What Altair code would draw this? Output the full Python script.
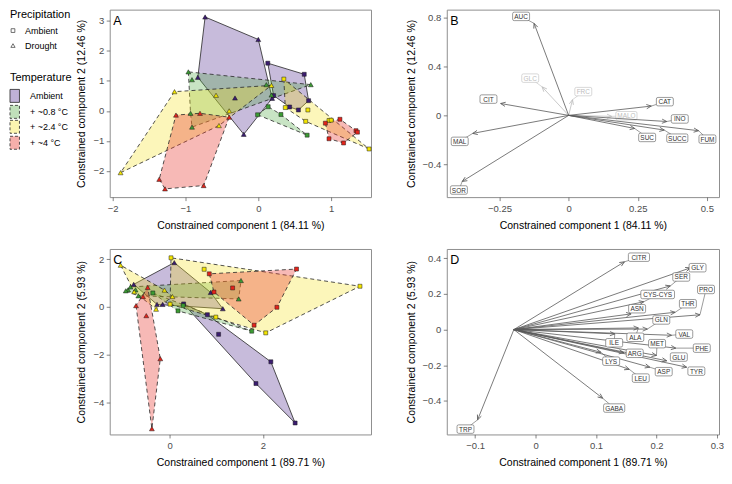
import math
import altair as alt
import pandas as pd

FONT = "Liberation Sans"

# ---------------- data ----------------
TEMPERATURE = ["Ambient", "+ ~0.8 °C", "+ ~2.4 °C", "+ ~4 °C"]
PRECIPITATION = ["Ambient", "Drought"]

# Panel A scores (T0 = ambient temperature ... T3 = +~4 °C; AMB/DRO = precipitation)
A_T0_AMB_X = [0.13, 0.63, 0.69, 0.55, 0.43, 0.21]
A_T0_AMB_Y = [1.59, 1.22, 0.34, 0.03, 0.13, 0.51]
A_T0_DRO_X = [-0.73, 0.00, -0.83, -0.20, 0.19, -0.32]
A_T0_DRO_Y = [3.13, 2.38, 1.12, -0.78, 0.42, 0.43]
A_T1_AMB_X = [0.135, 0.31, -0.01, 0.67]
A_T1_AMB_Y = [0.14, -0.12, -0.13, -0.81]
A_T1_DRO_X = [-0.96, -0.91, 0.11, 0.72, -0.93, -0.91, 0.18]
A_T1_DRO_Y = [1.30, 1.04, 0.875, 0.875, -0.08, -0.54, 0.53]
A_T2_AMB_X = [0.35, 0.37, 0.68, 0.65, 0.97, 1.00, 1.52]
A_T2_AMB_Y = [1.06, 0.11, 0.03, -0.35, -0.32, -0.31, -1.27]
A_T2_DRO_X = [-1.89, -1.15, 0.18, -0.58, -0.40, -0.54]
A_T2_DRO_Y = [-2.06, 0.64, 0.85, 0.52, 0.00, -0.49]
A_T3_AMB_X = [0.92, 1.12, 1.34, 1.36, 1.17, 0.97]
A_T3_AMB_Y = [-0.41, -0.28, -0.66, -0.71, -1.07, -0.93]
A_T3_DRO_X = [-1.13, -0.80, -0.40, -0.75, -1.28, -1.36]
A_T3_DRO_Y = [-0.14, -0.08, -0.21, -2.49, -2.60, -2.28]

# Panel C scores
C_T0_AMB_X = [0.30, 0.81, 1.05, 2.17, 1.85, 2.69]
C_T0_AMB_Y = [0.12, -0.33, -1.15, -2.30, -3.21, -4.86]
C_T0_DRO_X = [0.10, -0.77, -0.27, -0.15, 1.14, 0.88]
C_T0_DRO_Y = [1.85, 0.94, 0.10, 0.10, -0.08, 0.60]
C_T1_AMB_X = [-0.36, 0.29, 0.18, 1.76]
C_T1_AMB_Y = [0.58, 0.05, -0.17, -1.02]
C_T1_DRO_X = [-0.89, -0.84, -0.73, -0.67, -0.94, 1.53, 1.48]
C_T1_DRO_Y = [0.71, 0.83, 0.71, 0.46, 0.67, 1.10, 0.33]
C_T2_AMB_X = [0.03, 0.74, 0.99, 2.06, 4.08, 0.01]
C_T2_AMB_Y = [2.05, 1.57, -0.43, -1.09, 0.86, 0.11]
C_T2_DRO_X = [-1.05, -0.11, 0.06, -0.76, -0.29]
C_T2_DRO_Y = [1.74, 0.70, 0.43, 0.63, -0.10]
C_T3_AMB_X = [0.85, 2.72, 1.35, 0.95, 2.30, 1.81]
C_T3_AMB_Y = [1.38, 1.58, 0.79, 0.62, -0.02, -0.77]
C_T3_DRO_X = [-0.47, -0.57, -0.72, -0.50, -0.20, -0.38]
C_T3_DRO_Y = [0.81, 0.43, 0.05, -0.37, -2.17, -5.10]

# Panel B loadings
B_VARS = ["AUC", "GLC", "FRC", "CIT", "CAT", "MALO", "INO", "FUM", "SUCC", "SUC", "MAL", "SOR"]
B_X = [-0.125, -0.096, 0.014, -0.246, 0.299, 0.156, 0.355, 0.470, 0.346, 0.239, -0.347, -0.385]
B_Y = [0.751, 0.233, 0.128, 0.097, 0.076, -0.008, -0.050, -0.125, -0.120, -0.107, -0.147, -0.539]
B_LABEL_X = [-0.172, -0.139, 0.053, -0.290, 0.348, 0.209, 0.402, 0.502, 0.393, 0.284, -0.394, -0.397]
B_LABEL_Y = [0.808, 0.304, 0.194, 0.133, 0.112, -0.003, -0.029, -0.194, -0.186, -0.180, -0.212, -0.609]
B_FAINT = [False, True, True, False, False, True, False, False, False, False, False, False]
B_ORIGIN = [0.0, 0.0]

# Panel D loadings
D_VARS = ["CITR", "GLY", "SER", "PRO", "CYS-CYS", "THR", "ASN", "GLN", "ALA", "VAL", "ILE",
          "MET", "PHE", "ARG", "GLU", "TYR", "LYS", "ASP", "LEU", "GABA", "TRP"]
D_X = [0.147, 0.256, 0.223, 0.272, 0.179, 0.231, 0.158, 0.185, 0.170, 0.225, 0.131,
       0.200, 0.232, 0.146, 0.217, 0.250, 0.108, 0.189, 0.155, 0.111, -0.096]
D_Y = [0.380, 0.346, 0.245, 0.083, 0.156, 0.097, 0.088, 0.003, 0.009, -0.032, -0.024,
       -0.145, -0.104, -0.130, -0.175, -0.211, -0.127, -0.211, -0.223, -0.385, -0.506]
D_LABEL_X = [0.171, 0.268, 0.241, 0.282, 0.202, 0.252, 0.168, 0.208, 0.165, 0.246, 0.130,
             0.201, 0.275, 0.164, 0.237, 0.266, 0.125, 0.212, 0.174, 0.130, -0.116]
D_LABEL_Y = [0.406, 0.347, 0.295, 0.225, 0.197, 0.145, 0.117, 0.054, -0.043, -0.025, -0.074,
             -0.079, -0.104, -0.133, -0.154, -0.233, -0.177, -0.236, -0.272, -0.440, -0.558]
D_FAINT = [False] * len(D_VARS)
D_ORIGIN = [-0.036, 0.0]

# ---------------- styles ----------------
POINT_COLORS = ["#3b1c70", "#3b9b33", "#f3e500", "#e3241b"]
FILL_COLORS = ["#5e3c99", "#4aa63a", "#f6e21c", "#e8372e"]
FILL_OPACITY = [0.35, 0.3, 0.3, 0.35]
EDGE = "#262626"

W_LEFT, W_RIGHT = 262, 273
H_TOP, H_BOT = 188, 186
LEG_X = -100  # legend column offset from panel A's left edge (pixels)


def hull(points):
    pts = sorted(set(points))
    if len(pts) <= 2:
        return pts

    def cross(o, a, b):
        return (a[0] - o[0]) * (b[1] - o[1]) - (a[1] - o[1]) * (b[0] - o[0])

    lower, upper = [], []
    for p in pts:
        while len(lower) >= 2 and cross(lower[-2], lower[-1], p) <= 0:
            lower.pop()
        lower.append(p)
    for p in reversed(pts):
        while len(upper) >= 2 and cross(upper[-2], upper[-1], p) <= 0:
            upper.pop()
        upper.append(p)
    return lower[:-1] + upper[:-1]


def enc_xy(xdom, ydom, xticks, yticks, xtitle, ytitle, xf="x", yf="y"):
    X = alt.X(f"{xf}:Q", scale=alt.Scale(domain=xdom, nice=False, zero=False),
              axis=alt.Axis(values=xticks, format=".3~g", title=xtitle))
    Y = alt.Y(f"{yf}:Q", scale=alt.Scale(domain=ydom, nice=False, zero=False),
              axis=alt.Axis(values=yticks, format=".3~g", title=ytitle))
    return X, Y


DUMMY = pd.DataFrame({"d": [0]})


def letter_layer(letter):
    return alt.Chart(DUMMY).mark_text(text=letter, font=FONT, fontSize=12.5, align="left",
                                      baseline="middle", color="black").encode(
        x=alt.value(3.5), y=alt.value(11))


def scatter_panel(groups, xdom, ydom, w, h, xticks, yticks, xtitle, ytitle, letter, extra=()):
    X, Y = enc_xy(xdom, ydom, xticks, yticks, xtitle, ytitle)
    layers = []
    pts = []
    for ti, pi, xs, ys in groups:
        hv = hull(list(zip(xs, ys)))
        df = pd.DataFrame({"x": [p[0] for p in hv], "y": [p[1] for p in hv], "o": list(range(len(hv)))})
        kw = dict(interpolate="linear-closed", fill=FILL_COLORS[ti], fillOpacity=FILL_OPACITY[ti],
                  stroke=EDGE, strokeWidth=0.8)
        if ti > 0:
            kw["strokeDash"] = [4, 3]
        layers.append(alt.Chart(df).mark_line(**kw).encode(x=X, y=Y, order="o:Q"))
        for x, y in zip(xs, ys):
            pts.append({"x": x, "y": y, "temp": TEMPERATURE[ti], "prec": PRECIPITATION[pi]})
    pdf = pd.DataFrame(pts)
    layers.append(alt.Chart(pdf).mark_point(filled=True, opacity=1, stroke="#1a1a1a", strokeWidth=0.5).encode(
        x=X, y=Y,
        fill=alt.Fill("temp:N", scale=alt.Scale(domain=TEMPERATURE, range=POINT_COLORS), legend=None),
        shape=alt.Shape("prec:N", scale=alt.Scale(domain=PRECIPITATION, range=["square", "triangle-up"]), legend=None),
        size=alt.Size("prec:N", scale=alt.Scale(domain=PRECIPITATION, range=[16, 24]), legend=None),
    ))
    layers.append(letter_layer(letter))
    layers.extend(extra)
    return alt.layer(*layers).properties(width=w, height=h)


def rrect_path(wpx, hpx, r=1.6, k=5.0):
    hw, hh, rr = wpx / 2 / k, hpx / 2 / k, r / k
    f = lambda v: f"{v:.3f}"
    return (f"M{f(-hw + rr)},{f(-hh)}H{f(hw - rr)}Q{f(hw)},{f(-hh)} {f(hw)},{f(-hh + rr)}"
            f"V{f(hh - rr)}Q{f(hw)},{f(hh)} {f(hw - rr)},{f(hh)}H{f(-hw + rr)}"
            f"Q{f(-hw)},{f(hh)} {f(-hw)},{f(hh - rr)}V{f(-hh + rr)}Q{f(-hw)},{f(-hh)} {f(-hw + rr)},{f(-hh)}Z")


CHEVRON = "M-0.7,1.6L0,0L0.7,1.6"


def biplot_panel(vars_, tx, ty, lx, ly, faint, origin, xdom, ydom, w, h, xticks, yticks,
                 xtitle, ytitle, letter):
    sx = w / (xdom[1] - xdom[0])
    sy = h / (ydom[1] - ydom[0])
    rows = []
    for i, v in enumerate(vars_):
        dx, dy = tx[i] - origin[0], ty[i] - origin[1]
        ang = math.degrees(math.atan2(dx * sx, dy * sy)) % 360
        bw, bh = 4.2 * len(v) + 4.4, 8.5
        ddx, ddy = (lx[i] - tx[i]) * sx, (ly[i] - ty[i]) * sy
        dist = math.hypot(ddx, ddy)
        s = min(1.0, (bw / 2) / abs(ddx) if ddx else 1e9, (bh / 2) / abs(ddy) if ddy else 1e9)
        rows.append(dict(var=v, x0=origin[0], y0=origin[1], x=tx[i], y=ty[i], lx=lx[i], ly=ly[i],
                         faint=faint[i], ang=ang, leader=dist * (1 - s) > 4, box=rrect_path(bw, bh)))
    df = pd.DataFrame(rows)
    X, Y = enc_xy(xdom, ydom, xticks, yticks, xtitle, ytitle)
    XL, YL = enc_xy(xdom, ydom, xticks, yticks, xtitle, ytitle, "lx", "ly")
    X0, Y0 = enc_xy(xdom, ydom, xticks, yticks, xtitle, ytitle, "x0", "y0")
    layers = []
    for is_faint in (True, False):
        sub = df[df.faint == is_faint]
        if sub.empty:
            continue
        col = "#bdbdbd" if is_faint else "#595959"
        tcol = "#bdbdbd" if is_faint else "#333333"
        lead = sub[sub.leader]
        if not lead.empty:
            layers.append(alt.Chart(lead).mark_rule(color=col, strokeWidth=0.6).encode(
                x=X, y=Y, x2="lx:Q", y2="ly:Q"))
        layers.append(alt.Chart(sub).mark_rule(color=col, strokeWidth=0.8).encode(
            x=X0, y=Y0, x2="x:Q", y2="y:Q"))
        layers.append(alt.Chart(sub).mark_point(shape=CHEVRON, filled=False, stroke=col, strokeWidth=0.8,
                                                size=36, opacity=1).encode(
            x=X, y=Y, angle=alt.Angle("ang:Q", scale=None)))
        layers.append(alt.Chart(sub).mark_point(filled=True, fill="white", stroke=col, strokeWidth=0.6,
                                                size=100, opacity=1).encode(
            x=XL, y=YL, shape=alt.Shape("box:N", scale=None, legend=None)))
        layers.append(alt.Chart(sub).mark_text(font=FONT, fontSize=6.5, color=tcol, baseline="middle",
                                               align="center", dy=0.5).encode(
            x=XL, y=YL, text="var:N"))
    layers.append(letter_layer(letter))
    return alt.layer(*layers).properties(width=w, height=h)


# ---------------- legend (drawn beside panel A) ----------------
def legend_layers():
    L = []

    def txt(t, x, y, size):
        return alt.Chart(DUMMY).mark_text(text=t, font=FONT, fontSize=size, align="left", baseline="middle",
                                          color="black").encode(x=alt.value(x), y=alt.value(y))
    L.append(txt("Precipitation", LEG_X, 5.5, 11))
    for i, (shape, yy) in enumerate([("square", 21), ("triangle-up", 36)]):
        L.append(alt.Chart(DUMMY).mark_point(shape=shape, filled=False, stroke="#4d4d4d", strokeWidth=0.8,
                                             size=14 if shape == "square" else 18, opacity=1).encode(
            x=alt.value(LEG_X + 3), y=alt.value(yy)))
        L.append(txt(PRECIPITATION[i], LEG_X + 15, yy, 9))
    L.append(txt("Temperature", LEG_X, 68.5, 11))
    for i, (y0, y1, ty) in enumerate([(80, 93, 87), (96, 109, 103), (111, 124, 118), (127, 140, 134)]):
        kw = dict(fill=FILL_COLORS[i], fillOpacity=FILL_OPACITY[i] + 0.05, stroke=EDGE, strokeWidth=0.8)
        if i > 0:
            kw["strokeDash"] = [3, 2]
        L.append(alt.Chart(DUMMY).mark_rect(**kw).encode(
            x=alt.value(LEG_X), x2=alt.value(LEG_X + 9.5), y=alt.value(y0), y2=alt.value(y1)))
        L.append(txt(TEMPERATURE[i], LEG_X + 20, ty, 9))
    return L


A_GROUPS = [(0, 0, A_T0_AMB_X, A_T0_AMB_Y), (0, 1, A_T0_DRO_X, A_T0_DRO_Y),
            (1, 0, A_T1_AMB_X, A_T1_AMB_Y), (1, 1, A_T1_DRO_X, A_T1_DRO_Y),
            (2, 0, A_T2_AMB_X, A_T2_AMB_Y), (2, 1, A_T2_DRO_X, A_T2_DRO_Y),
            (3, 0, A_T3_AMB_X, A_T3_AMB_Y), (3, 1, A_T3_DRO_X, A_T3_DRO_Y)]
C_GROUPS = [(0, 0, C_T0_AMB_X, C_T0_AMB_Y), (0, 1, C_T0_DRO_X, C_T0_DRO_Y),
            (1, 0, C_T1_AMB_X, C_T1_AMB_Y), (1, 1, C_T1_DRO_X, C_T1_DRO_Y),
            (2, 0, C_T2_AMB_X, C_T2_AMB_Y), (2, 1, C_T2_DRO_X, C_T2_DRO_Y),
            (3, 0, C_T3_AMB_X, C_T3_AMB_Y), (3, 1, C_T3_DRO_X, C_T3_DRO_Y)]

panel_a = scatter_panel(A_GROUPS, [-2.039, 1.546], [-2.875, 3.375], W_LEFT, H_TOP,
                        [-2, -1, 0, 1], [-2, -1, 0, 1, 2, 3],
                        "Constrained component 1 (84.11 %)", "Constrained component 2 (12.46 %)", "A",
                        extra=legend_layers())
panel_b = biplot_panel(B_VARS, B_X, B_Y, B_LABEL_X, B_LABEL_Y, B_FAINT, B_ORIGIN,
                       [-0.4408, 0.5439], [-0.667, 0.863], W_RIGHT, H_TOP,
                       [-0.25, 0, 0.25, 0.5], [-0.4, 0, 0.4, 0.8],
                       "Constrained component 1 (84.11 %)", "Constrained component 2 (12.46 %)", "B")
panel_c = scatter_panel(C_GROUPS, [-1.284, 4.316], [-5.34, 2.42], W_LEFT, H_BOT,
                        [0, 2], [-4, -2, 0, 2],
                        "Constrained component 1 (89.71 %)", "Constrained component 2 (5.93 %)", "C")
panel_d = biplot_panel(D_VARS, D_X, D_Y, D_LABEL_X, D_LABEL_Y, D_FAINT, D_ORIGIN,
                       [-0.147, 0.3035], [-0.588, 0.452], W_RIGHT, H_BOT,
                       [-0.1, 0, 0.1, 0.2, 0.3], [-0.4, -0.2, 0, 0.2, 0.4],
                       "Constrained component 1 (89.71 %)", "Constrained component 2 (5.93 %)", "D")

chart = alt.concat(panel_a, panel_b, panel_c, panel_d, columns=2,
                   spacing={"row": 52, "column": 76}, bounds="flush", align="each").properties(
    padding=0
).configure_axis(
    labelFont=FONT, titleFont=FONT, labelFontSize=9.5, titleFontSize=10.5,
    labelColor="#4d4d4d", titleColor="black", titleFontWeight="normal",
    tickColor="#333333", tickSize=3.5, tickWidth=0.6, domain=False, grid=False, labelPadding=2.5,
    labelFlush=False,
).configure_axisX(titlePadding=8).configure_axisY(titlePadding=6).configure_view(
    stroke="#8f8f8f", strokeWidth=1
)

chart.save("out.html", embed_options={"renderer": "svg", "actions": False})
